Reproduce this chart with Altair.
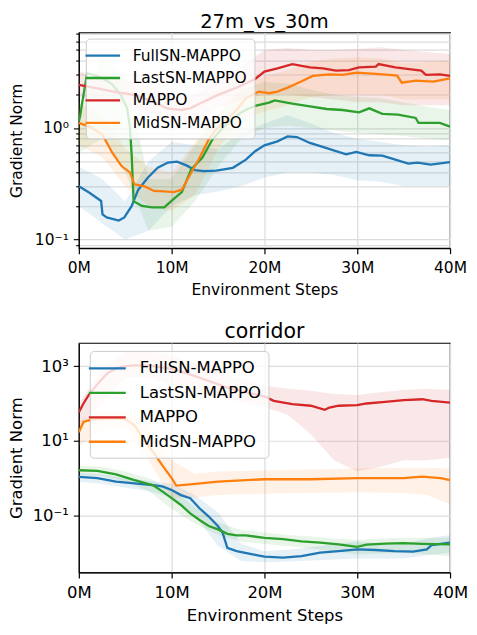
import altair as alt
import pandas as pd

SERIES = ["FullSN-MAPPO", "LastSN-MAPPO", "MAPPO", "MidSN-MAPPO"]
COLORS = ["#1f77b4", "#2ca02c", "#d62728", "#ff7f0e"]

# ---------------- Panel 1: 27m_vs_30m ----------------
T_FULL_X = [0, 1.1, 2.4, 2.55, 3.0, 4.3, 4.9, 5.7, 6.4, 7.45, 8.5, 9.6, 10.6, 11.65, 12.5, 13.5, 14.8, 16.6, 18, 19,
            20, 21.4, 22.5, 23.5, 24.9, 26.7, 28.8, 29.9, 31.3, 32.7, 34.1, 35.5, 36.5, 37.9, 40]
T_FULL_Y = [0.30, 0.264, 0.222, 0.168, 0.158, 0.148, 0.158, 0.2, 0.28, 0.36, 0.44, 0.49, 0.50, 0.46, 0.42, 0.41, 0.415, 0.44, 0.52, 0.62,
            0.70, 0.76, 0.84, 0.83, 0.735, 0.66, 0.58, 0.61, 0.57, 0.565, 0.52, 0.48, 0.49, 0.47, 0.495]

T_LAST_X = [0, 0.15, 0.35, 0.6, 0.9, 1.5, 2.5, 3.5, 4.5, 5.2, 5.5, 5.7, 5.9, 6.8, 7.9, 9.2, 10.2, 11.1, 12.1, 13.3,
            14.4, 15.5, 16.5, 17.5, 18, 19, 20.5, 21.1, 23, 24.9, 26.7, 28.4, 30.2, 31.3, 32.7, 34.4, 36.3, 36.6, 38.9, 40]
T_LAST_Y = [1.15, 1.3, 1.67, 2.2, 3.1, 3.0, 2.8, 2.5, 2.0, 1.5, 1.03, 0.56, 0.22, 0.2, 0.194, 0.194, 0.23, 0.266, 0.426, 0.54,
            0.79, 1.0, 1.2, 1.38, 1.46, 1.58, 1.69, 1.77, 1.65, 1.56, 1.48, 1.45, 1.38, 1.5, 1.34, 1.32, 1.23, 1.11, 1.11, 1.03]

T_RED_X = [0, 2, 4, 6, 8, 9.5, 11, 12, 13, 15, 17, 19, 20, 21.4, 23, 24.9, 26.3, 27.7, 29.1, 30.2,
           32, 32.3, 34.1, 35.8, 36.9, 37.4, 38.9, 40]
T_RED_Y = [2.43, 2.27, 2.1, 1.98, 1.73, 1.5, 1.45, 1.5, 1.65, 1.98, 2.3, 2.75, 3.2, 3.42, 3.74, 3.49, 3.42, 3.27, 3.3, 3.49,
           3.55, 3.74, 3.49, 3.35, 3.27, 2.99, 3.03, 2.93]

T_MID_X = [0, 1.15, 2.55, 3.6, 4.6, 5.5, 6.0, 7.1, 8.1, 9.2, 10.2, 11.1, 11.9, 12.9, 14.0, 14.7, 16, 17, 18, 19.4,
           20.5, 21.4, 22.5, 23.9, 25.2, 27, 28.4, 29.9, 32, 33.4, 34.3, 34.8, 36.3, 38.2, 40]
T_MID_Y = [1.11, 1.03, 0.87, 0.6, 0.456, 0.4, 0.313, 0.30, 0.273, 0.27, 0.266, 0.28, 0.37, 0.52, 0.79, 0.95, 1.2, 1.45, 1.85, 2.12,
           2.05, 2.12, 2.3, 2.6, 2.93, 3.03, 2.99, 3.13, 3.05, 2.99, 2.95, 2.55, 2.66, 2.6, 2.79]

BAND_X = [0, 2.5, 5, 7.5, 10, 12.5, 15, 17.5, 20, 22.5, 25, 27.5, 30, 32.5, 35, 37.5, 40]
T_FULL_LO = [0.2, 0.14, 0.1, 0.12, 0.2, 0.25, 0.27, 0.3, 0.36, 0.4, 0.4, 0.38, 0.34, 0.33, 0.3, 0.3, 0.3]
T_FULL_HI = [0.45, 0.35, 0.22, 0.5, 0.75, 0.7, 0.65, 0.9, 1.1, 1.3, 1.1, 0.9, 0.8, 0.75, 0.7, 0.68, 0.7]
T_LAST_LO = [0.6, 0.8, 0.4, 0.12, 0.13, 0.22, 0.45, 0.8, 1.0, 1.05, 1.0, 0.95, 0.9, 0.88, 0.85, 0.8, 0.78]
T_LAST_HI = [1.5, 4.0, 3.0, 0.35, 0.35, 0.7, 1.3, 2.2, 2.6, 2.5, 2.2, 2.0, 1.9, 1.85, 1.7, 1.55, 1.45]
T_RED_LO = [1.9, 1.75, 1.6, 1.4, 1.1, 1.1, 1.5, 1.8, 2.0, 2.0, 1.9, 1.8, 1.7, 1.7, 1.6, 1.6, 1.6]
T_RED_HI = [3.2, 3.0, 2.7, 2.4, 1.9, 2.0, 2.6, 3.6, 5.0, 5.2, 5.0, 5.0, 5.1, 5.3, 5.0, 4.8, 4.6]
T_MID_LO = [0.7, 0.55, 0.3, 0.2, 0.18, 0.25, 0.65, 1.2, 1.4, 1.6, 1.9, 2.0, 2.0, 2.0, 1.8, 1.8, 1.8]
T_MID_HI = [1.7, 1.3, 0.65, 0.45, 0.4, 0.75, 1.4, 2.4, 2.9, 3.3, 3.9, 4.2, 4.3, 4.2, 3.8, 3.9, 4.0]

# ---------------- Panel 2: corridor ----------------
B_FULL_X = [0, 2, 4, 6, 8, 9, 10, 11, 12, 13, 14, 15, 15.5, 16, 17, 19, 20, 22, 24, 26, 28, 30, 32, 34, 36, 37.5, 38, 40]
B_FULL_Y = [1.08, 1.0, 0.8, 0.72, 0.65, 0.6, 0.48, 0.35, 0.29, 0.155, 0.093, 0.051, 0.034, 0.0135, 0.011, 0.0087, 0.0078,
            0.0074, 0.0081, 0.01, 0.011, 0.0123, 0.0118, 0.011, 0.0107, 0.0123, 0.0159, 0.0187]

B_LAST_X = [0, 2, 4, 6, 8, 9, 10, 11, 12, 13, 14, 15, 16, 17, 18, 20, 22, 24, 26, 28, 30, 31, 33, 35, 37, 40]
B_LAST_Y = [1.62, 1.56, 1.25, 0.88, 0.64, 0.44, 0.29, 0.19, 0.113, 0.075, 0.052, 0.042, 0.032, 0.029, 0.029, 0.025,
            0.023, 0.02, 0.0185, 0.0166, 0.0143, 0.0165, 0.0174, 0.018, 0.0172, 0.0166]

B_RED_X = [0, 0.5, 1, 2, 3, 4, 5, 6, 7, 8, 10, 12, 14, 16, 18, 20, 21, 23, 25, 26.5, 27, 28, 30, 31, 33, 35, 37, 38, 40]
B_RED_Y = [58, 100, 160, 330, 620, 880, 1000, 1050, 1050, 1000, 850, 600, 400, 265, 200, 155, 118, 96, 87, 68, 78, 87,
           90, 100, 111, 123, 130, 118, 106]

B_MID_X = [0, 0.5, 1, 2, 4, 5, 6, 7, 8, 9, 10, 10.5, 12, 15, 18, 20, 25, 30, 35, 37, 39, 40]
B_MID_Y = [17, 32, 35, 38, 40, 38, 26, 11, 5, 2.2, 1.0, 0.63, 0.68, 0.8, 0.88, 0.93, 0.93, 1.0, 1.0, 1.1, 1.0, 0.88]

B_FULL_LO = [0.8, 0.7, 0.55, 0.45, 0.3, 0.1, 0.015, 0.006, 0.0055, 0.0058, 0.0062, 0.0066, 0.007, 0.007, 0.007, 0.0085, 0.01]
B_FULL_HI = [1.4, 1.25, 1.0, 0.85, 0.7, 0.35, 0.12, 0.017, 0.011, 0.012, 0.014, 0.017, 0.02, 0.018, 0.017, 0.024, 0.03]
B_LAST_LO = [1.2, 1.15, 0.8, 0.45, 0.15, 0.06, 0.03, 0.02, 0.017, 0.015, 0.013, 0.011, 0.009, 0.0095, 0.01, 0.009, 0.008]
B_LAST_HI = [2.1, 2.0, 1.5, 1.0, 0.5, 0.17, 0.065, 0.04, 0.035, 0.03, 0.027, 0.024, 0.022, 0.024, 0.025, 0.025, 0.025]
B_RED_LO = [25, 100, 500, 500, 300, 200, 150, 110, 80, 50, 15, 3, 1.5, 2, 3, 3, 3.5]
B_RED_HI = [100, 800, 2500, 2500, 2000, 1200, 700, 450, 300, 250, 220, 180, 170, 200, 230, 250, 230]
B_MID_LO = [7, 20, 20, 3, 0.3, 0.3, 0.35, 0.37, 0.38, 0.39, 0.4, 0.41, 0.42, 0.41, 0.4, 0.35, 0.2]
B_MID_HI = [35, 60, 65, 25, 3, 1.3, 1.5, 1.55, 1.6, 1.65, 1.7, 1.75, 1.8, 1.85, 1.9, 1.9, 1.8]

FONT = "DejaVu Sans"


def lines_df(pairs):
    rows = []
    for name, xs, ys in pairs:
        for x, y in zip(xs, ys):
            rows.append({"series": name, "step": x, "val": y})
    return pd.DataFrame(rows)


def bands_df(pairs):
    rows = []
    for name, lo, hi in pairs:
        for x, a, b in zip(BAND_X, lo, hi):
            rows.append({"series": name, "step": x, "lo": a, "hi": b})
    return pd.DataFrame(rows)


SUP = {"-1": "⁻¹", "0": "⁰", "1": "¹", "3": "³"}


def panel(title, ldf, bdf, ydomain, yvals, w, h, fs, tfs, lx, ly, ext, rowpad, ssize, loff):
    dec = "abs(log(datum.value)/LN10 - round(log(datum.value)/LN10)) < 0.001"
    e = "round(log(datum.value)/LN10)"
    label_expr = "''"
    for k, v in SUP.items():
        label_expr = f"({dec} && {e} == {k}) ? '10{v}' : " + label_expr
    yscale = alt.Scale(type="log", domain=ydomain, nice=False, zero=False)
    xscale = alt.Scale(domain=[0, 40], nice=False, zero=False)
    xaxis = alt.Axis(values=[0, 10, 20, 30, 40], labelExpr="datum.value + 'M'", title="Environment Steps",
                     labelFontSize=fs, titleFontSize=fs, labelFont=FONT, titleFont=FONT,
                     titleFontWeight="normal", labelColor="black", titleColor="black",
                     tickSize=5.5, tickWidth=1.2, tickColor="black", labelPadding=7, titlePadding=6,
                     grid=True, gridColor="#dcdcdc", gridWidth=1.2, domainColor="black", domainWidth=1.2,
                     labelFlush=False)
    yaxis = alt.Axis(values=yvals, labelExpr=label_expr, title="Gradient Norm",
                     labelFontSize=fs, titleFontSize=fs, labelFont=FONT, titleFont=FONT,
                     titleFontWeight="normal", labelColor="black", titleColor="black",
                     tickSize={"condition": {"test": dec, "value": 5.5}, "value": 3.2},
                     tickWidth=1.1, tickColor="black", labelPadding=5, titlePadding=6,
                     grid=True, gridColor="#dcdcdc", gridWidth=1.2, domainColor="black", domainWidth=1.2,
                     labelFlush=False, minExtent=ext, maxExtent=ext)
    cscale = alt.Scale(domain=SERIES, range=COLORS)
    legend = alt.Legend(
        title=None, orient="none", legendX=lx, legendY=ly, direction="vertical",
        symbolType="M-2,0H2", symbolSize=ssize, symbolStrokeWidth=2.3, symbolOpacity=1,
        symbolFillColor="transparent",
        labelFontSize=fs, labelFont=FONT, labelColor="black", labelOffset=loff,
        fillColor="rgba(255,255,255,0.8)", strokeColor="#cccccc", cornerRadius=4,
        padding=7, rowPadding=rowpad)
    bands = alt.Chart(bdf).mark_area(opacity=0.11, clip=True).encode(
        x=alt.X("step:Q", scale=xscale, axis=xaxis),
        y=alt.Y("lo:Q", scale=yscale, axis=yaxis),
        y2="hi:Q",
        color=alt.Color("series:N", scale=cscale, legend=legend),
        detail="series:N",
    )
    lines = alt.Chart(ldf).mark_line(strokeWidth=2.3, clip=True).encode(
        x=alt.X("step:Q", scale=xscale, axis=xaxis),
        y=alt.Y("val:Q", scale=yscale, axis=yaxis),
        color=alt.Color("series:N", scale=cscale, legend=legend),
    )
    return alt.layer(bands, lines).properties(
        width=w, height=h,
        title=alt.TitleParams(title, fontSize=tfs, font=FONT, fontWeight="normal", color="black",
                              anchor="middle", frame="group", offset=0),
    )


top_lines = lines_df([
    ("FullSN-MAPPO", T_FULL_X, T_FULL_Y),
    ("LastSN-MAPPO", T_LAST_X, T_LAST_Y),
    ("MAPPO", T_RED_X, T_RED_Y),
    ("MidSN-MAPPO", T_MID_X, T_MID_Y),
])
top_bands = bands_df([
    ("FullSN-MAPPO", T_FULL_LO, T_FULL_HI),
    ("LastSN-MAPPO", T_LAST_LO, T_LAST_HI),
    ("MAPPO", T_RED_LO, T_RED_HI),
    ("MidSN-MAPPO", T_MID_LO, T_MID_HI),
])
bot_lines = lines_df([
    ("FullSN-MAPPO", B_FULL_X, B_FULL_Y),
    ("LastSN-MAPPO", B_LAST_X, B_LAST_Y),
    ("MAPPO", B_RED_X, B_RED_Y),
    ("MidSN-MAPPO", B_MID_X, B_MID_Y),
])
bot_bands = bands_df([
    ("FullSN-MAPPO", B_FULL_LO, B_FULL_HI),
    ("LastSN-MAPPO", B_LAST_LO, B_LAST_HI),
    ("MAPPO", B_RED_LO, B_RED_HI),
    ("MidSN-MAPPO", B_MID_LO, B_MID_HI),
])

TOP_TICKS = [0.09, 0.1, 0.2, 0.3, 0.4, 0.5, 0.6, 0.7, 0.8, 0.9, 1, 2, 3, 4, 5, 6, 7]
BOT_TICKS = [0.1, 10, 1000]

top = panel("27m_vs_30m", top_lines, top_bands, [0.0838, 7.16], TOP_TICKS, 372, 216, 15.5, 19.5,
            7, 6, 48, 3.5, 300, 20)
bot = panel("corridor", bot_lines, bot_bands, [0.00295, 4200], BOT_TICKS, 372, 230, 16.5, 20.5,
            11, 8, 48, 5.5, 342, 22)

chart = alt.vconcat(top, bot, spacing=22).resolve_scale(color="independent").resolve_legend(
    color="independent").configure_view(stroke="black", strokeWidth=1.2).properties(
    padding={"left": 0, "top": 2, "right": 0, "bottom": 0})

chart.save("out.html", embed_options={"renderer": "svg", "actions": False})
